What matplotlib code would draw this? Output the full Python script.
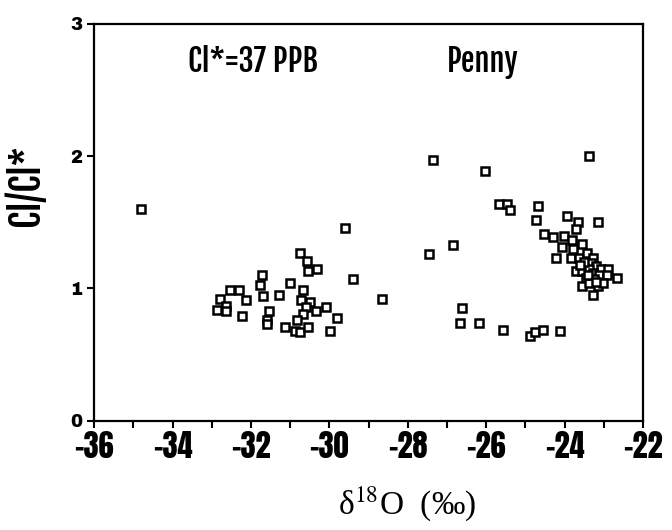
import matplotlib
matplotlib.use("Agg")
import matplotlib.pyplot as plt
from matplotlib.ticker import MultipleLocator

# delta 18O (per mil) and Cl/Cl*
d18o = [
    -34.80,
    -30.76, -30.57, -30.55, -30.32, -31.73, -31.76, -31.01, -32.54, -32.31,
    -32.79, -32.12, -31.69, -31.29, -30.66, -32.86, -32.64, -32.64, -32.23,
    -31.54, -31.60, -31.58, -30.72, -30.50, -30.60, -30.35, -30.66, -30.83,
    -31.14, -30.88, -30.76, -30.55, -29.59, -29.40, -28.66, -30.08, -29.80,
    -29.99,
    -27.35, -26.02, -25.67, -25.47, -25.40, -24.69, -24.72, -26.85, -27.45,
    -26.62, -26.66, -26.18, -25.58, -24.89, -24.75, -24.55, -24.12,
    -23.38, -23.93, -23.65, -23.16, -23.71, -24.52, -24.29, -24.01, -23.82,
    -23.56, -24.06, -23.78, -24.22, -23.84, -23.63, -23.42, -23.29, -23.33,
    -23.21, -23.71, -23.55, -23.38, -23.08, -22.89, -23.29, -23.12, -22.93,
    -22.67, -23.46, -23.25, -23.55, -23.38, -23.16, -23.02, -23.27,
    -23.50, -23.40, -23.20, -23.60,
]
cl_ratio = [
    1.60,
    1.27, 1.21, 1.13, 1.15, 1.10, 1.03, 1.04, 0.99, 0.99,
    0.92, 0.91, 0.94, 0.95, 0.99, 0.84, 0.87, 0.83, 0.79,
    0.83, 0.76, 0.73, 0.91, 0.90, 0.86, 0.83, 0.81, 0.76,
    0.71, 0.68, 0.67, 0.71, 1.46, 1.07, 0.92, 0.86, 0.78,
    0.68,
    1.97, 1.89, 1.64, 1.64, 1.59, 1.62, 1.52, 1.33, 1.26,
    0.85, 0.74, 0.74, 0.69, 0.64, 0.67, 0.69, 0.68,
    2.00, 1.55, 1.50, 1.50, 1.45, 1.41, 1.39, 1.40, 1.37,
    1.34, 1.31, 1.30, 1.23, 1.23, 1.23, 1.27, 1.23, 1.19,
    1.17, 1.13, 1.13, 1.15, 1.15, 1.15, 1.12, 1.10, 1.10,
    1.08, 1.08, 1.07, 1.02, 1.04, 1.02, 1.04, 0.95,
    1.20, 1.10, 1.05, 1.18,
]

x_ticks = [-36, -34, -32, -30, -28, -26, -24, -22]
y_ticks = [0, 1, 2, 3]

# condensed heavy faces, first one installed wins
COND = ["Fjalla One", "Roboto Condensed", "Archivo Narrow", "PT Sans Narrow",
        "Liberation Sans Narrow", "DejaVu Sans"]
TICKF = ["Anton", "Fjalla One", "Roboto Condensed", "Liberation Sans Narrow",
         "DejaVu Sans"]
YTICKF = ["Archivo Black", "Liberation Sans", "DejaVu Sans"]

fig = plt.figure(figsize=(6.72, 5.30), dpi=100)
ax = fig.add_axes([0.140, 0.206, 0.817, 0.749])

ax.plot(d18o, cl_ratio, linestyle="none", marker="s", markersize=5.6,
        markerfacecolor="white", markeredgecolor="black", markeredgewidth=1.8)

ax.set_xlim(-36, -22)
ax.set_ylim(0, 3)
ax.set_xticks(x_ticks)
ax.xaxis.set_minor_locator(MultipleLocator(1))
ax.set_yticks(y_ticks)

for s in ax.spines.values():
    s.set_linewidth(1.6)
ax.tick_params(axis="both", which="both", direction="out", length=5, width=1.5,
               top=False, right=False)
ax.tick_params(axis="x", pad=2)

for lab in ax.get_xticklabels():
    lab.set_family(TICKF)
    lab.set_fontweight("bold")
    lab.set_fontsize(22)
for lab in ax.get_yticklabels():
    lab.set_family(YTICKF)
    lab.set_fontweight("bold")
    lab.set_fontsize(13)

ax.text(-31.95, 2.71, "Cl*=37 PPB", ha="center", va="center", fontsize=22,
        fontweight="bold", family=COND)
ax.text(-26.1, 2.71, "Penny", ha="center", va="center", fontsize=22,
        fontweight="bold", family=COND)

fig.text(0.038, 1 - 185 / 530, "Cl/Cl*", rotation=90, ha="center", va="center",
         fontsize=27, fontweight="bold", family=COND)

plt.rcParams["mathtext.fontset"] = "stix"
fig.text(0.606, 0.05, r"$\mathregular{\delta}^{18}$O  (‰)", ha="center", va="center",
         fontsize=24, family=["Liberation Serif", "DejaVu Serif"])

fig.savefig("out.png", dpi=100)
